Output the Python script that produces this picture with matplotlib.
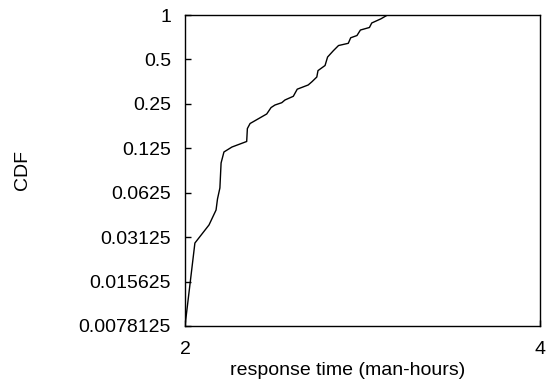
import matplotlib
matplotlib.use('Agg')
import matplotlib.pyplot as plt
from matplotlib.ticker import FixedLocator, FixedFormatter, NullLocator

plt.rcParams['font.family'] = ['Liberation Sans', 'DejaVu Sans']

# CDF of response time (log2 on both axes)
resp_time = [2.000, 2.039, 2.096, 2.125, 2.131, 2.141, 2.146, 2.158, 2.192,
             2.256, 2.259, 2.271, 2.346, 2.366, 2.384, 2.416, 2.431, 2.471,
             2.490, 2.544, 2.563, 2.587, 2.593, 2.629, 2.642, 2.672, 2.699,
             2.751, 2.764, 2.798, 2.817, 2.867, 2.880, 2.932, 2.970]
cdf = [0.0078125, 0.0285, 0.0378, 0.0477, 0.0567, 0.0673, 0.0994, 0.118,
       0.1275, 0.139, 0.170, 0.184, 0.2135, 0.236, 0.2455, 0.2546, 0.2655,
       0.2813, 0.3143, 0.3357, 0.3535, 0.380, 0.420, 0.4548, 0.519, 0.573,
       0.621, 0.643, 0.701, 0.726, 0.791, 0.823, 0.883, 0.942, 1.0]

y_ticks = [0.0078125, 0.015625, 0.03125, 0.0625, 0.125, 0.25, 0.5, 1]
y_ticklabels = ['0.0078125', '0.015625', '0.03125', '0.0625', '0.125',
                '0.25', '0.5', '1']
x_ticks = [2, 4]
x_ticklabels = ['2', '4']

fig = plt.figure(figsize=(5.58, 3.92), dpi=100)
ax = fig.add_axes([185 / 558, 66 / 392, 355 / 558, 311 / 392])

ax.plot(resp_time, cdf, color='black', lw=1.0)

ax.set_xscale('log', base=2)
ax.set_yscale('log', base=2)
ax.set_xlim(2, 4)
ax.set_ylim(y_ticks[0], y_ticks[-1])

ax.xaxis.set_major_locator(FixedLocator(x_ticks))
ax.xaxis.set_major_formatter(FixedFormatter(x_ticklabels))
ax.xaxis.set_minor_locator(NullLocator())
ax.yaxis.set_major_locator(FixedLocator(y_ticks))
ax.yaxis.set_major_formatter(FixedFormatter(y_ticklabels))
ax.yaxis.set_minor_locator(NullLocator())

ax.tick_params(direction='in', length=4, width=1, labelsize=14, color='black')
ax.tick_params(axis='x', pad=11)
ax.tick_params(axis='y', pad=10)
for sp in ax.spines.values():
    sp.set_linewidth(1.0)
    sp.set_color('black')

ax.set_xlabel('response time (man-hours)', fontsize=14, va='center')
ax.xaxis.set_label_coords(0.458, -0.142)
ax.set_ylabel('CDF', fontsize=14, va='center', ha='center')
ax.yaxis.set_label_coords(-0.459, 0.5)

fig.savefig('out.png', dpi=100)
